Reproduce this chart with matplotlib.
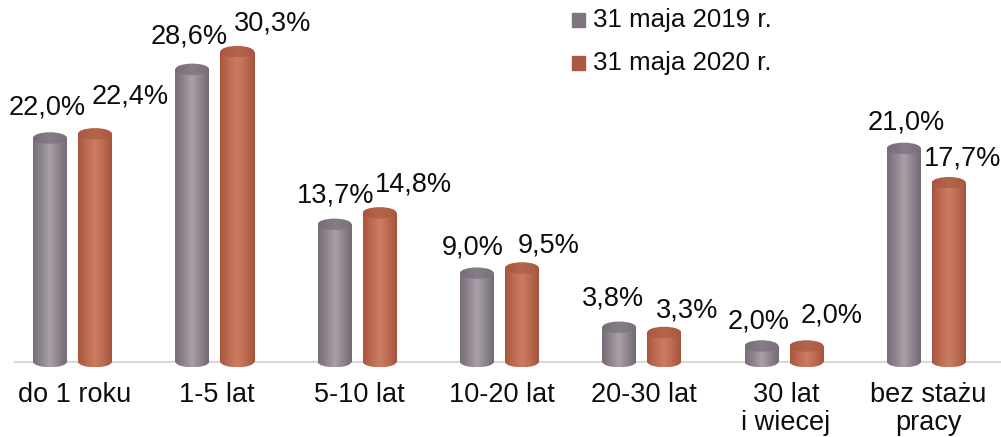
import numpy as np
import matplotlib
matplotlib.use("Agg")
from matplotlib import pyplot as plt
from matplotlib.colors import LinearSegmentedColormap
from matplotlib.patches import Ellipse, Rectangle

plt.rcParams['font.family'] = ['Liberation Sans', 'DejaVu Sans']

# data
categories = ['do 1 roku', '1-5 lat', '5-10 lat', '10-20 lat', '20-30 lat',
              '30 lat\ni wiecej', 'bez stażu\npracy']
series_names = ['31 maja 2019 r.', '31 maja 2020 r.']
v2019 = [22.0, 28.6, 13.7, 9.0, 3.8, 2.0, 21.0]
v2020 = [22.4, 30.3, 14.8, 9.5, 3.3, 2.0, 17.7]

# label offsets in pixels (label centre relative to top of cylinder)
off2019 = [(-3, 30), (-3, 33), (1, 29), (-4, 26), (-6, 29), (-3, 25), (2, 26)]
off2020 = [(35, 37), (35, 28), (34, 28), (27, 23), (23, 22), (25, 30), (14, 24)]

# colours
gray_body = LinearSegmentedColormap.from_list('g', ['#766c77', '#8f858f', '#aaa1aa', '#8e848e', '#736974'])
gray_top = LinearSegmentedColormap.from_list('gt', ['#766c77', '#877d88', '#7a707b'])
red_body = LinearSegmentedColormap.from_list('r', ['#a7553d', '#bd6c51', '#cb7d61', '#bb6a50', '#a4543d'])
red_top = LinearSegmentedColormap.from_list('rt', ['#a65640', '#b6654d', '#a85841'])
legend_cols = ['#807581', '#aa5a43']

fig = plt.figure(figsize=(10.01, 4.37), dpi=100)
ax = fig.add_axes([0, 0, 1, 1])
ax.axis('off')

px_x = 142.3   # pixels per category
px_y = 10.4    # pixels per percent
width = 34 / px_x
shift = 22.5 / px_x
ell_h = 11.5 / px_y
floor = 0.5

grad = np.linspace(0, 1, 128).reshape(1, -1)


def cylinder(xc, top, body, topmap):
    x0, x1 = xc - width / 2, xc + width / 2
    ax.imshow(grad, extent=[x0, x1, floor, top], cmap=body, aspect='auto',
              interpolation='bicubic', zorder=2)
    e = Ellipse((xc, floor), width, ell_h, facecolor='none', edgecolor='none')
    ax.add_patch(e)
    im = ax.imshow(grad, extent=[x0, x1, floor - ell_h / 2, floor], cmap=body,
                   aspect='auto', interpolation='bicubic', zorder=2)
    im.set_clip_path(e)
    et = Ellipse((xc, top), width, ell_h, facecolor='none', edgecolor='none')
    ax.add_patch(et)
    im2 = ax.imshow(grad, extent=[x0, x1, top - ell_h / 2, top + ell_h / 2], cmap=topmap,
                    aspect='auto', interpolation='bicubic', zorder=3)
    im2.set_clip_path(et)


x = np.arange(len(categories))

# floor line
ax.plot([-57.5 / px_x, 7], [floor, floor], color='#d9d9d9', lw=1.5, zorder=1)

for i in range(len(categories)):
    cylinder(x[i] - shift, v2019[i], gray_body, gray_top)
    cylinder(x[i] + shift, v2020[i], red_body, red_top)
    ax.annotate(f'{v2019[i]:.1f}%'.replace('.', ','), (x[i] - shift, v2019[i]),
                xytext=off2019[i], textcoords='offset pixels',
                ha='center', va='center', fontsize=19.5, color='#0d0d0d')
    ax.annotate(f'{v2020[i]:.1f}%'.replace('.', ','), (x[i] + shift, v2020[i]),
                xytext=off2020[i], textcoords='offset pixels',
                ha='center', va='center', fontsize=19.5, color='#0d0d0d')
    ax.text(x[i] + 2 / px_x, 1 - 382 / 437, categories[i], transform=ax.get_xaxis_transform(),
            ha='center', va='top', fontsize=19.5, linespacing=1.12, color='#0d0d0d')

ax.set_xlim(-72.5 / px_x, (1001 - 72.5) / px_x)
ax.set_ylim((366.8 - 437) / px_y, 366.8 / px_y)

# legend
for k, name in enumerate(series_names):
    yc = 1 - (20 + 43 * k) / 437
    fig.patches.append(Rectangle((572 / 1001, yc - 7 / 437), 13 / 1001, 14 / 437,
                                 transform=fig.transFigure, color=legend_cols[k]))
    fig.text(593 / 1001, yc, name, ha='left', va='center', fontsize=18.6, color='#0d0d0d')

plt.savefig('out.png')
